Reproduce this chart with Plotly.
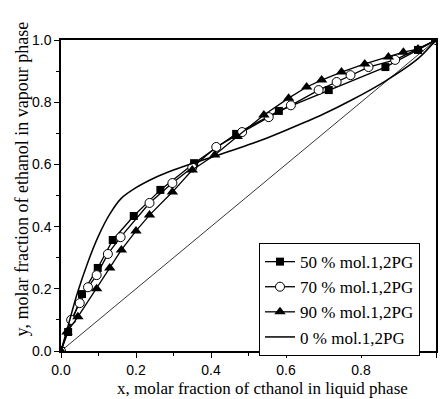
import plotly.graph_objects as go

# 50 % mol. 1,2PG (squares)
x50 = [0.0, 0.019, 0.056, 0.098, 0.138, 0.194, 0.265, 0.355, 0.467, 0.581, 0.714, 0.865, 0.952, 1.0]
y50 = [0.0, 0.061, 0.183, 0.267, 0.357, 0.434, 0.518, 0.604, 0.698, 0.772, 0.839, 0.913, 0.968, 1.0]

# 70 % mol. 1,2PG (circles)
x70 = [0.0, 0.027, 0.05, 0.072, 0.095, 0.125, 0.159, 0.236, 0.297, 0.35, 0.414, 0.483, 0.554, 0.613, 0.687, 0.735, 0.772, 0.82, 0.891, 1.0]
y70 = [0.0, 0.10, 0.154, 0.205, 0.244, 0.312, 0.366, 0.476, 0.54, 0.59, 0.656, 0.704, 0.752, 0.79, 0.839, 0.865, 0.887, 0.913, 0.936, 1.0]

# 90 % mol. 1,2PG (triangles)
x90 = [0.0, 0.016, 0.045, 0.095, 0.13, 0.161, 0.2, 0.236, 0.297, 0.35, 0.41, 0.47, 0.541, 0.607, 0.655, 0.695, 0.748, 0.81, 0.873, 0.913, 0.952, 1.0]
y90 = [0.0, 0.061, 0.11, 0.20, 0.267, 0.325, 0.386, 0.437, 0.511, 0.582, 0.63, 0.69, 0.759, 0.813, 0.849, 0.871, 0.897, 0.923, 0.945, 0.961, 0.971, 1.0]

# 0 % mol. 1,2PG (line)
x0 = [0.0, 0.016, 0.042, 0.07, 0.1, 0.13, 0.16, 0.2, 0.25, 0.3, 0.36, 0.424, 0.528, 0.6, 0.7, 0.775, 0.865, 0.952, 1.0]
y0 = [0.0, 0.068, 0.18, 0.28, 0.37, 0.44, 0.49, 0.525, 0.557, 0.582, 0.607, 0.632, 0.675, 0.71, 0.762, 0.807, 0.868, 0.94, 1.0]

# diagonal y = x
xd = [0.0, 1.0]
yd = [0.0, 1.0]

x_title = "x, molar fraction of cthanol in liquid phase"
y_title = "y, molar fraction of ethanol in vapour phase"

serif = "Liberation Serif"
sans = "Liberation Sans"

fig = go.Figure()
fig.add_trace(go.Scatter(x=xd, y=yd, mode="lines", line=dict(color="black", width=0.8),
                         showlegend=False, hoverinfo="skip"))
fig.add_trace(go.Scatter(x=x50, y=y50, mode="lines+markers", name="50 % mol.1,2PG",
                         line=dict(color="black", width=1.3),
                         marker=dict(symbol="square", size=8, color="black")))
fig.add_trace(go.Scatter(x=x70, y=y70, mode="lines+markers", name="70 % mol.1,2PG",
                         line=dict(color="black", width=1.3),
                         marker=dict(symbol="circle", size=9, color="white",
                                     line=dict(color="black", width=1))))
fig.add_trace(go.Scatter(x=x90, y=y90, mode="lines+markers", name="90 % mol.1,2PG",
                         line=dict(color="black", width=1.3),
                         marker=dict(symbol="triangle-up", size=10, color="black")))
fig.add_trace(go.Scatter(x=x0, y=y0, mode="lines", name="0 % mol.1,2PG",
                         line=dict(color="black", width=1.5, shape="spline", smoothing=0.8)))

axis_common = dict(
    range=[0, 1], showgrid=False, zeroline=False, showline=True, linecolor="black",
    linewidth=1.5, mirror=True, ticks="outside", ticklen=5, tickwidth=1, tickcolor="black",
    dtick=0.2, tickformat=".1f", tickfont=dict(family=sans, size=14, color="black"),
    minor=dict(ticks="outside", dtick=0.1, ticklen=3, tickcolor="black"),
)

fig.update_xaxes(**axis_common)
fig.update_yaxes(**axis_common)

fig.add_annotation(text=x_title, xref="paper", yref="paper", x=0.536, y=-0.119,
                   xanchor="center", yanchor="middle", showarrow=False,
                   font=dict(family=serif, size=17, color="black"))
fig.add_annotation(text=y_title, xref="paper", yref="paper", x=-0.103, y=0.553,
                   xanchor="center", yanchor="middle", showarrow=False, textangle=-90,
                   font=dict(family=serif, size=18, color="black"))

fig.update_layout(
    width=443, height=399,
    margin=dict(l=61, r=5, t=40, b=48),
    paper_bgcolor="white", plot_bgcolor="white",
    legend=dict(x=0.528, y=0.347, xanchor="left", yanchor="top",
                bgcolor="white", bordercolor="black", borderwidth=1,
                font=dict(family=serif, size=17, color="black"),
                tracegroupgap=0, itemwidth=30),
)

fig.write_html("out.html")
